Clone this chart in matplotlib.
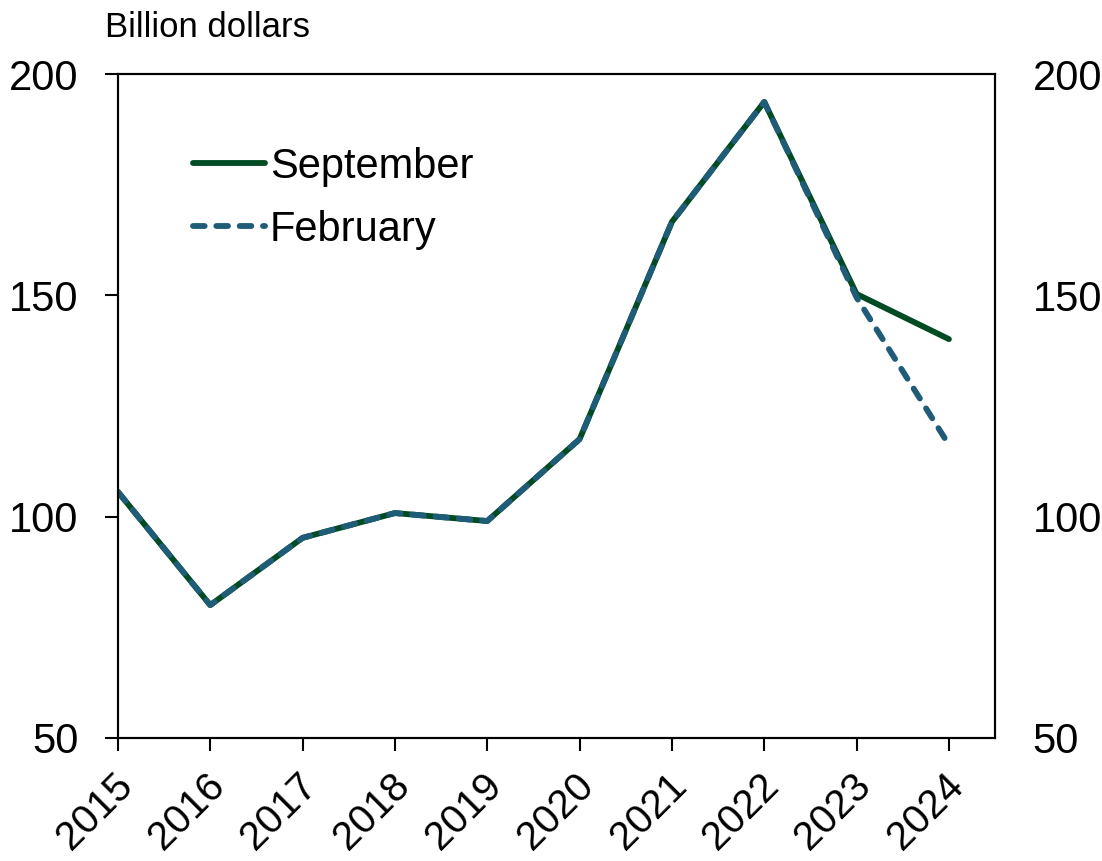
import matplotlib
matplotlib.use("Agg")
import matplotlib.pyplot as plt
from matplotlib.transforms import ScaledTranslation

plt.rcParams['font.family'] = ['Liberation Sans', 'DejaVu Sans']

years = ['2015', '2016', '2017', '2018', '2019', '2020', '2021', '2022', '2023', '2024']
september = [105.6, 80.0, 95.2, 100.8, 99.0, 117.5, 166.6, 193.7, 150.3, 140.1]
february = [105.6, 80.0, 95.2, 100.8, 99.0, 117.5, 166.6, 193.7, 149.5, 116.2]
yticks = [50, 100, 150, 200]

fig = plt.figure(figsize=(11.02, 8.61), dpi=100)
ax = fig.add_axes([0.107, 0.143, 0.796, 0.771])
x = list(range(len(years)))

ax.plot(x, september, color='#004B23', lw=4.2, solid_capstyle='round', label='September')
ax.plot(x, february, color='#1F5C78', lw=4.2, dashes=(2.0, 2.0), dash_capstyle='round', label='February')

ax.set_xlim(0, 9.5)
ax.set_ylim(50, 200)
ax.set_yticks(yticks)
ax.set_yticklabels([str(v) for v in yticks], fontsize=30)
ax.set_xticks(x)
ax.set_xticklabels(years, fontsize=29, rotation=45, ha='right', rotation_mode='anchor')
ax.tick_params(axis='y', direction='out', length=9.5, width=1.5, pad=19)
ax.tick_params(axis='x', direction='out', length=9.5, width=1.5, pad=11)
off = ScaledTranslation(-5 / 100, 0, fig.dpi_scale_trans)
for lab in ax.get_xticklabels():
    lab.set_transform(lab.get_transform() + off)
for s in ax.spines.values():
    s.set_linewidth(1.5)

ax2 = ax.twinx()
ax2.set_ylim(50, 200)
ax2.set_yticks(yticks)
ax2.set_yticklabels([str(v) for v in yticks], fontsize=30)
ax2.tick_params(axis='y', length=0, pad=27)
for s in ax2.spines.values():
    s.set_linewidth(1.5)

leg = ax.legend(loc='upper left', bbox_to_anchor=(0.0855, 0.89), frameon=False, fontsize=30,
                handlelength=1.73, handletextpad=0.12, labelspacing=0.55, borderpad=0,
                borderaxespad=0)

fig.text(0.095, 0.968, 'Billion dollars', fontsize=25, ha='left', va='center')

fig.savefig('out.png', dpi=100)
